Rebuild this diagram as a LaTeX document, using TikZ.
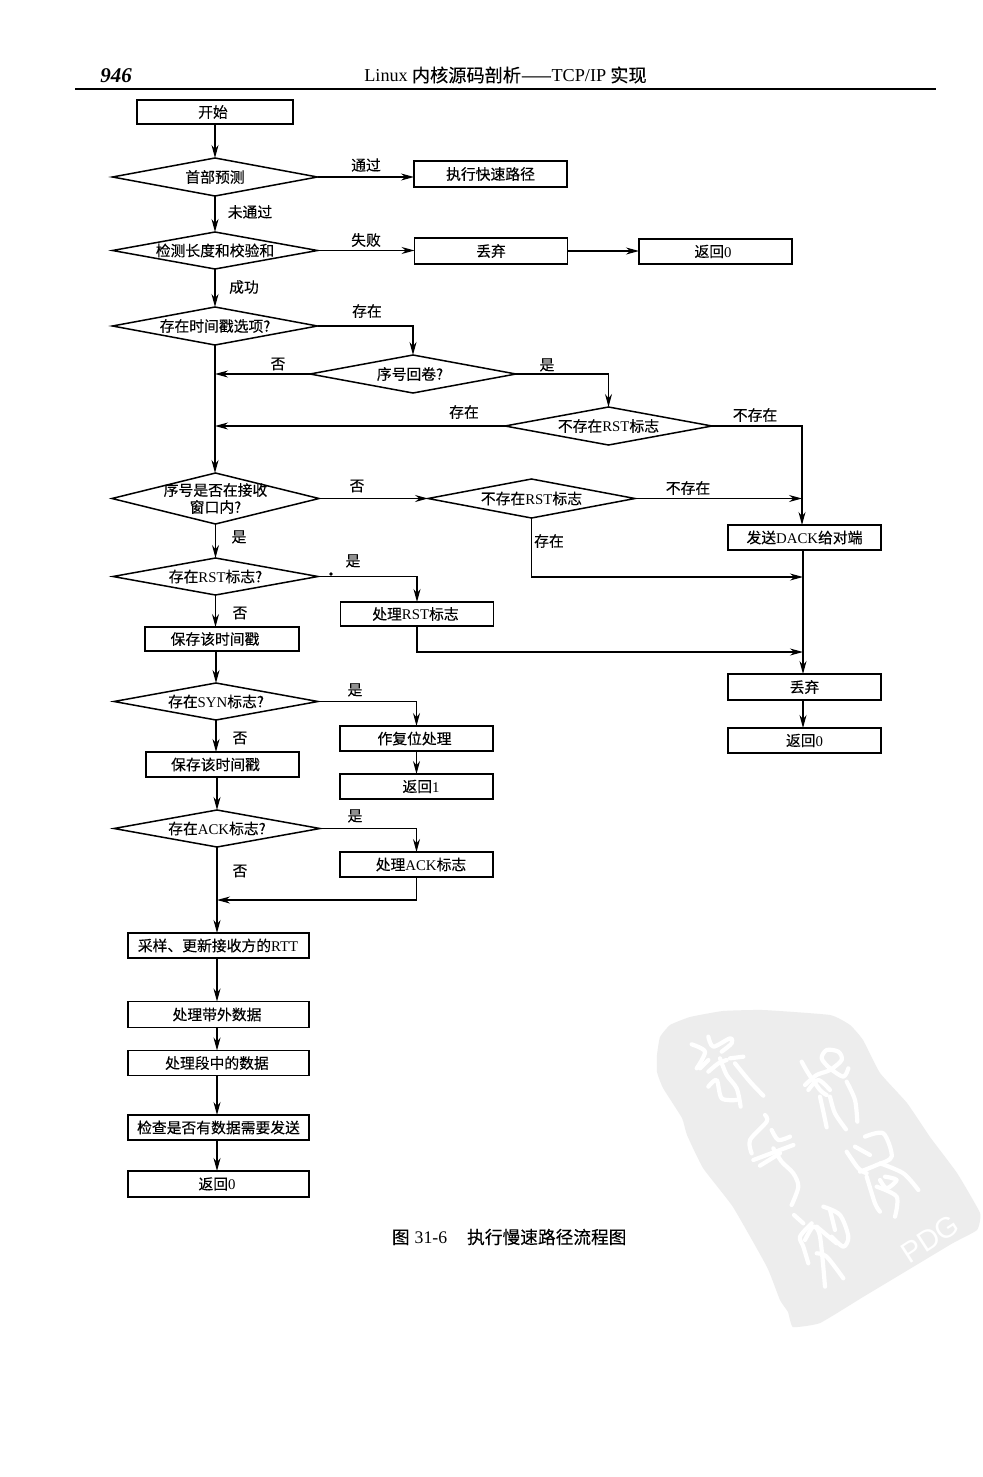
\documentclass[tikz,border=0pt]{standalone}
\usepackage{fontspec}
\setmainfont{Liberation Serif}
\newfontfamily\cjk[FakeBold=0.2]{Noto Sans CJK SC}
\newfontfamily\pdgfont{Liberation Sans}
\usetikzlibrary{shapes.geometric,arrows.meta,calc}
\newcommand\la[1]{{\rmfamily #1}}
\tikzset{
  every node/.style={font=\cjk\fontsize{14.8}{17}\selectfont,text=black,inner sep=0pt,outer sep=0pt},
  boxn/.style={draw=black,line width=1.5pt,rectangle,minimum height=25pt},
  dia/.style={draw=black,line width=1.5pt,diamond,inner sep=0pt,outer sep=0pt},
  arr/.style={draw=black,line width=1.15pt,-{Stealth[length=13pt,width=7pt]}},
  seal/.style={draw=white,line width=4.2pt,line cap=round,line join=round},
}
\begin{document}
\begin{tikzpicture}[x=1pt,y=-1pt]
\useasboundingbox (0,0) rectangle (982,1477);
\fill[white] (0,0) rectangle (982,1477);
% watermark
\fill[black!7] plot[smooth cycle,tension=.25] coordinates {(657,1055)(660,1037)(670,1025)(690,1017)(723,1011)(763,1010)(830,1015)(850,1025)(863,1040)(880,1073)(907,1103)(930,1137)(957,1173)(980,1213)(977,1230)(953,1243)(913,1267)(863,1297)(820,1323)(793,1327)(788,1312)(780,1300)(767,1267)(733,1207)(703,1168)(687,1135)(682,1118)(663,1088)(657,1072)};
\begin{scope}[shift={(650,1005)},x=.3333pt,y=-.3333pt]
\draw[seal] plot[smooth] coordinates {(125,118)(165,140)(140,190)};
\draw[seal] plot[smooth] coordinates {(175,95)(190,125)(240,100)(245,115)(215,140)};
\draw[seal] plot[smooth] coordinates {(150,190)(175,165)};
\draw[seal] plot[smooth] coordinates {(175,200)(205,175)(230,165)};
\draw[seal] plot[smooth] coordinates {(175,245)(200,225)(215,280)(260,285)};
\draw[seal] plot[smooth] coordinates {(210,160)(230,210)(260,250)(272,305)};
\draw[seal] plot[smooth] coordinates {(240,160)(280,155)};
\draw[seal] plot[smooth] coordinates {(255,175)(300,230)(340,272)};
\draw[seal] plot[smooth] coordinates {(345,330)(350,350)(300,405)(305,445)};
\draw[seal] plot[smooth] coordinates {(365,375)(385,405)(420,395)};
\draw[seal] plot[smooth] coordinates {(310,465)(430,420)};
\draw[seal] plot[smooth] coordinates {(330,482)(390,445)};
\draw[seal] plot[smooth] coordinates {(370,430)(395,470)(430,505)(445,545)(425,600)};
\end{scope}
\begin{scope}[shift={(780,1040)},x=.3333pt,y=-.3333pt]
\draw[seal] plot[smooth] coordinates {(65,65)(85,100)(120,150)(140,165)};
\draw[seal] plot[smooth] coordinates {(75,135)(110,105)(150,90)(185,60)(175,35)(140,30)(125,55)(150,85)(190,110)(205,85)};
\draw[seal] plot[smooth] coordinates {(85,150)(115,120)(150,150)};
\draw[seal] plot[smooth] coordinates {(200,125)(225,180)(232,245)};
\draw[seal] plot[smooth] coordinates {(120,170)(130,215)(140,262)};
\draw[seal] plot[smooth] coordinates {(150,170)(165,220)(198,268)};
\draw[seal] plot[smooth] coordinates {(200,335)(235,385)(260,400)};
\draw[seal] plot[smooth] coordinates {(225,320)(270,345)};
\draw[seal] plot[smooth] coordinates {(255,290)(310,280)(335,350)(290,375)(240,395)};
\draw[seal] plot[smooth] coordinates {(260,410)(285,490)(300,515)};
\draw[seal] plot[smooth] coordinates {(300,370)(370,400)(415,450)};
\draw[seal] plot[smooth] coordinates {(300,420)(320,445)(350,420)(315,410)};
\draw[seal] plot[smooth] coordinates {(290,440)(350,470)(345,530)};
\draw[seal] plot[smooth] coordinates {(42,525)(70,550)};
\draw[seal] plot[smooth] coordinates {(95,550)(60,590)(70,620)(85,670)};
\draw[seal] plot[smooth] coordinates {(75,600)(100,560)(120,590)(135,740)};
\draw[seal] plot[smooth] coordinates {(130,500)(180,525)(205,590)(190,620)(155,590)};
\draw[seal] plot[smooth] coordinates {(150,510)(165,570)};
\draw[seal] plot[smooth] coordinates {(110,640)(140,650)(190,715)};
\draw[seal] plot[smooth] coordinates {(110,560)(170,610)};
\end{scope}
\node[text=white,font=\pdgfont\fontsize{29}{30}\selectfont,rotate=33] (pdg) at (930,1239) {PDG};
% header
\node[font=\rmfamily\itshape\bfseries\fontsize{21}{24}\selectfont] (pg) at (116,76) {946};
\node[font=\cjk\fontsize{18.2}{20}\selectfont] (hd) at (505.5,75) {\la{Linux} 内核源码剖析——\la{TCP/IP} 实现};
\coordinate (hl) at (75,89); \coordinate (hr) at (936,89);
\draw[line width=1.5pt] (hl) -- (hr);
% nodes
\node[boxn,minimum width=156pt,minimum height=24pt] (start) at (215,112) {\hspace*{-4pt}开始};
\node[dia,minimum width=205pt,minimum height=38pt,label={center:首部预测}] (d1) at (215,177) {};
\node[boxn,minimum width=153pt,minimum height=26pt] (fast) at (490.5,174) {执行快速路径};
\node[dia,minimum width=205pt,minimum height=37pt,label={center:检测长度和校验和}] (d2) at (215,250.5) {};
\node[boxn,minimum width=153pt,minimum height=26pt] (drop1) at (491,251) {丢弃};
\node[boxn,minimum width=153pt,minimum height=25pt] (ret0a) at (715.5,251.5) {\hspace*{-5pt}返回\la{0}};
\node[dia,minimum width=205pt,minimum height=38pt,label={center:存在时间戳选项?}] (d3) at (215,326) {};
\node[dia,minimum width=206pt,minimum height=38pt,label={[xshift=-3pt]center:序号回卷?}] (wrap) at (413,374) {};
\node[dia,minimum width=207pt,minimum height=38pt,label={center:不存在\la{RST}标志}] (rsta) at (608.5,426) {};
\node[dia,minimum width=207pt,minimum height=51pt,label={[align=center]center:序号是否在接收\\窗口内?}] (d4) at (215.5,498.5) {};
\node[dia,minimum width=207pt,minimum height=39pt,label={center:不存在\la{RST}标志}] (rstb) at (531.5,498.5) {};
\node[boxn,minimum width=153pt] (dack) at (804.5,537.5) {发送\la{DACK}给对端};
\node[dia,minimum width=205pt,minimum height=37pt,label={center:存在\la{RST}标志?}] (d5) at (215.5,576.5) {};
\node[boxn,minimum width=153pt,minimum height=24pt] (prst) at (417,614) {\hspace*{-3pt}处理\la{RST}标志};
\node[boxn,minimum width=154pt,minimum height=24pt] (savea) at (222,639) {\hspace*{-14pt}保存该时间戳};
\node[boxn,minimum width=153pt,minimum height=26pt] (drop2) at (804.5,687) {丢弃};
\node[boxn,minimum width=153pt] (ret0b) at (804.5,740.5) {返回\la{0}};
\node[dia,minimum width=204pt,minimum height=37pt,label={center:存在\la{SYN}标志?}] (d6) at (216,701.5) {};
\node[boxn,minimum width=153pt] (reset) at (416.5,738.5) {\hspace*{-4pt}作复位处理};
\node[boxn,minimum width=153pt] (saveb) at (222.5,764.5) {\hspace*{-14pt}保存该时间戳};
\node[boxn,minimum width=153pt] (ret1) at (416.5,786.5) {\hspace*{9pt}返回\la{1}};
\node[dia,minimum width=206pt,minimum height=37pt,label={center:存在\la{ACK}标志?}] (d7) at (217,828.5) {};
\node[boxn,minimum width=153pt] (pack) at (416.5,864.5) {\hspace*{9pt}处理\la{ACK}标志};
\node[boxn,minimum width=181pt] (samp) at (218.5,945.5) {\hspace*{-1pt}采样、更新接收方的\la{RTT}};
\node[boxn,minimum width=181pt,minimum height=26pt] (oob) at (218.5,1014.5) {\hspace*{-3pt}处理带外数据};
\node[boxn,minimum width=181pt] (seg) at (218.5,1063) {\hspace*{-3pt}处理段中的数据};
\node[boxn,minimum width=181pt] (chk) at (218.5,1127.5) {检查是否有数据需要发送};
\node[boxn,minimum width=181pt,minimum height=26pt] (ret0c) at (218.5,1184) {\hspace*{-3pt}返回\la{0}};
% junctions
\coordinate (dackin) at (802,525);
\coordinate (busin) at (803,674);
\coordinate (m1) at (803,577);
\coordinate (m2) at (803,652);
\coordinate (m3) at (217,900);
% connectors
\draw[arr] (start.south) -- (d1.north);
\draw[arr] (d1.east) -- (d1.east -| fast.west);
\draw[arr] (d1.south) -- (d2.north);
\draw[arr] (d2.east) -- (d2.east -| drop1.west);
\draw[arr] (drop1.east) -- (ret0a.west |- drop1.east);
\draw[arr] (d2.south) -- (d3.north);
\draw[arr] (d3.east) -| (wrap.north);
\draw[arr] (d3.south) -- (d4.north -| d3.south);
\draw[arr] (wrap.west) -- (wrap.west -| d3.south);
\draw[arr] (wrap.east) -| (rsta.north);
\draw[arr] (rsta.west) -- (rsta.west -| d3.south);
\draw[arr] (rsta.east) -| (dackin);
\draw[arr] (d4.east) -- (rstb.west);
\draw[arr] (rstb.east) -- (rstb.east -| dackin);
\draw[arr] (rstb.south) |- (m1);
\draw[arr] (d4.south) -- (d5.north);
\draw[arr] (d5.east) -| (prst.north);
\draw[arr] (prst.south) |- (m2);
\draw[arr] (d5.south) -- (d5.south |- savea.north);
\draw[arr] (busin |- dack.south) -- (busin);
\draw[arr] (busin |- drop2.south) -- (busin |- ret0b.north);
\draw[arr] (d6.north |- savea.south) -- (d6.north);
\draw[arr] (d6.east) -| (reset.north);
\draw[arr] (reset.south) -- (ret1.north);
\draw[arr] (d6.south) -- (d6.south |- saveb.north);
\draw[arr] (d7.north |- saveb.south) -- (d7.north);
\draw[arr] (d7.east) -| (pack.north);
\draw[arr] (pack.south) |- (m3);
\draw[arr] (d7.south) -- (d7.south |- samp.north);
\draw[arr] (d7.south |- samp.south) -- (d7.south |- oob.north);
\draw[arr] (d7.south |- oob.south) -- (d7.south |- seg.north);
\draw[arr] (d7.south |- seg.south) -- (d7.south |- chk.north);
\draw[arr] (d7.south |- chk.south) -- (d7.south |- ret0c.north);
\fill[black] (331,574) circle (1.8pt);
% connector labels
\node (l1) at (366,165) {通过};
\node (l2) at (250,212) {未通过};
\node (l3) at (366,240) {失败};
\node (l4) at (244,287) {成功};
\node (l5) at (367,311) {存在};
\node (l6) at (278,364) {否};
\node (l7) at (547,365) {是};
\node (l8) at (464,412) {存在};
\node (l9) at (755,415) {不存在};
\node (l10) at (357,486) {否};
\node (l11) at (688,488) {不存在};
\node (l12) at (549,541) {存在};
\node (l13) at (239,537) {是};
\node (l14) at (353,561) {是};
\node (l15) at (240,613) {否};
\node (l16) at (355,690) {是};
\node (l17) at (240,738) {否};
\node (l18) at (355,816) {是};
\node (l19) at (240,871) {否};
% caption
\node[anchor=west,font=\cjk\fontsize{17.7}{20}\selectfont] (cap) at (392,1237) {图\hspace{5pt}\la{31-6}\hspace{20pt}执行慢速路径流程图};
\end{tikzpicture}
\end{document}
